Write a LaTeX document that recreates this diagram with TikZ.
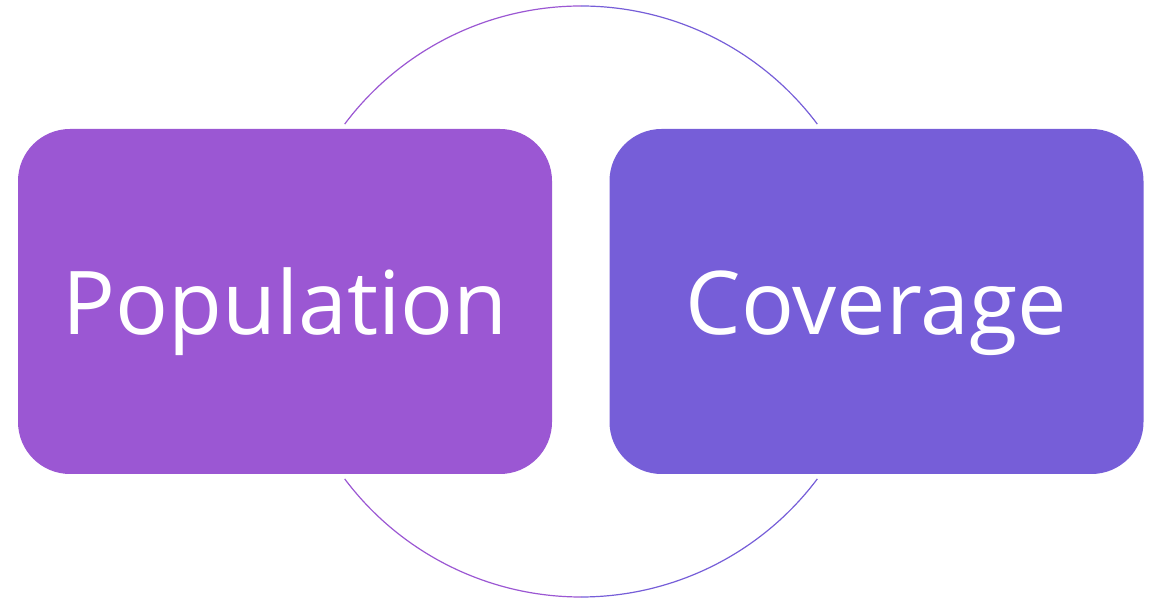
\documentclass[tikz,border=0pt]{standalone}
\usepackage{fontspec}
\setmainfont{Open Sans}
\definecolor{popfill}{HTML}{9B57D3}
\definecolor{covfill}{HTML}{765ED8}
\begin{document}
\begin{tikzpicture}[x=1pt, y=1pt,
    every node/.style={minimum height=345pt, align=center, rounded corners=52pt,
      text=white, font=\fontsize{88}{100}\selectfont, inner sep=0pt,
      text height=66pt, text depth=0pt}]
  \useasboundingbox (0,0) rectangle (1160,599);
  %Ring
  \coordinate (ring) at (581,297.5);
  \draw[popfill, line width=1.2pt] (ring) ++(143.1:295.5) arc[start angle=143.1, end angle=90, radius=295.5];
  \draw[covfill, line width=1.2pt] (ring) ++(90:295.5) arc[start angle=90, end angle=36.9, radius=295.5];
  \draw[popfill, line width=1.2pt] (ring) ++(-143.1:295.5) arc[start angle=-143.1, end angle=-90, radius=295.5];
  \draw[covfill, line width=1.2pt] (ring) ++(-90:295.5) arc[start angle=-90, end angle=-36.9, radius=295.5];
  %Boxes
  \node[minimum width=534pt, fill=popfill] (pop) at (285,297.5) {Population};
  \node[minimum width=534pt, fill=covfill] (cov) at (876.5,297.5) {Coverage};
\end{tikzpicture}
\end{document}
